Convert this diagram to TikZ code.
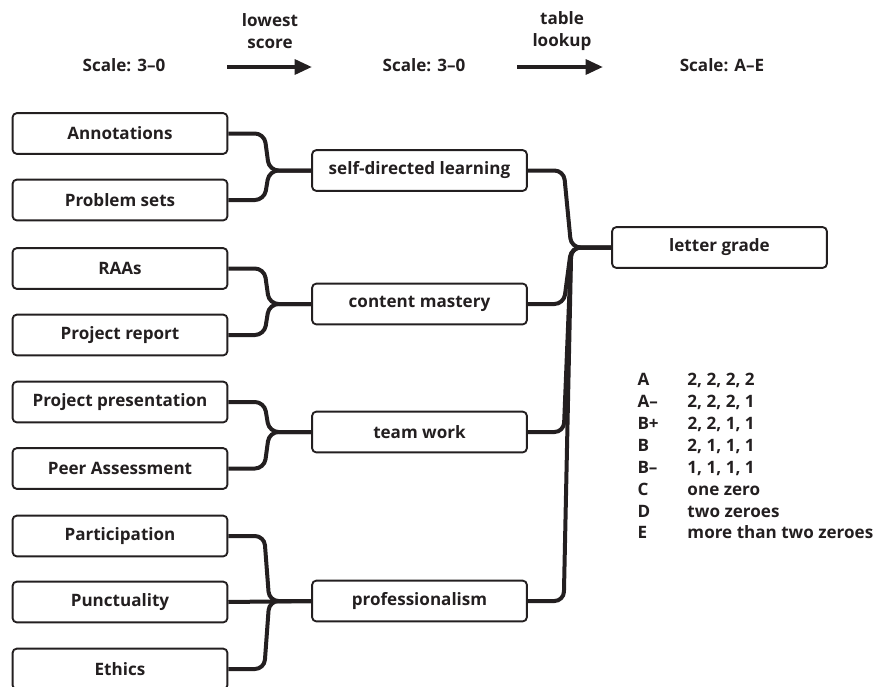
\documentclass[tikz,border=0pt]{standalone}
\usepackage{fontspec}
\setmainfont{Open Sans}
\usetikzlibrary{arrows.meta,calc}

\definecolor{inkc}{RGB}{35,31,32}
\tikzset{every picture/.style={line width=0.75pt}}
\tikzset{
  box/.style={draw=inkc, line width=1.4pt, rounded corners=3pt, minimum width=161pt, minimum height=30.5pt, inner sep=0pt, text=inkc, font=\bfseries\fontsize{12.8}{15}\selectfont},
  link/.style={draw=inkc, line width=3pt, rounded corners=7pt},
  lbl/.style={inner sep=0.75pt, text=inkc, align=center, font=\bfseries\fontsize{12.8}{16.5}\selectfont},
  flow/.style={draw=inkc, line width=3pt, -{Triangle[length=13pt,width=11pt]}},
}

\begin{document}
\begin{tikzpicture}[x=0.75pt,y=0.75pt,yscale=-1,xscale=1]
\useasboundingbox (0,0) rectangle (878,686);

% Text Node
\node (sc1) [lbl] at (124,65) {Scale: 3--0};
\node (sc2) [lbl] at (424,65) {Scale: 3--0};
\node (sc3) [lbl] at (722,65) {Scale: A--E};
\node (step1) [lbl] at (270,31) {lowest\\score};
\node (step2) [lbl] at (562,31) {table\\lookup};

%Straight Lines
\coordinate (a1s) at (227,67);
\coordinate (a1e) at (312,67);
\coordinate (a2s) at (517,67);
\coordinate (a2e) at (603,67);
\draw [flow] (a1s) -- (a1e);
\draw [flow] (a2s) -- (a2e);

% left column
\node (ann) [box] at (120,133.5) {Annotations};
\node (prob) [box] at (120,200) {Problem sets};
\node (raa) [box] at (120,268.5) {RAAs};
\node (rep) [box] at (120,335) {Project report};
\node (pres) [box] at (120,402) {Project presentation};
\node (peer) [box] at (120,468.5) {Peer Assessment};
\node (part) [box] at (120,536) {Participation};
\node (punc) [box] at (120,602) {Punctuality};
\node (eth) [box] at (120,669) {Ethics};

% middle column
\node (sdl) [box] at (419.5,170.5) {self-directed learning};
\node (cont) [box] at (419.5,304) {content mastery};
\node (team) [box] at (419.5,432) {team work};
\node (prof) [box] at (419.5,601) {professionalism};

% right column
\node (grade) [box] at (719.5,247.5) {letter grade};

%Brackets
\foreach \a/\b in {ann/sdl, prob/sdl, raa/cont, rep/cont, pres/team, peer/team, part/prof, eth/prof}
  \draw [link] (\a.east) -- ++(36,0) -- ($(\b.west)+(-42,0)$) -- (\b.west);
\draw [link] (punc.east) -- (prof.west);

\foreach \a in {sdl, cont, team, prof}
  \draw [link] (\a.east) -- ++(36,0) -- ($(grade.west)+(-40,0)$) -- (grade.west);

% Text Node
\node (grades) [anchor=north west, inner sep=0pt, text=inkc, font=\bfseries\fontsize{12.8}{16.4}\selectfont] at (637,370)
  {\begin{tabular}{@{}p{37.5pt}@{}l@{}}
   A & 2, 2, 2, 2\\
   A-- & 2, 2, 2, 1\\
   B+ & 2, 2, 1, 1\\
   B & 2, 1, 1, 1\\
   B-- & 1, 1, 1, 1\\
   C & one zero\\
   D & two zeroes\\
   E & more than two zeroes
   \end{tabular}};

\end{tikzpicture}
\end{document}
